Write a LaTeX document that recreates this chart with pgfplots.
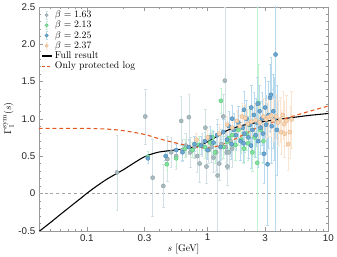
\documentclass[border=0pt]{standalone}
\usepackage{pgfplots}
\pgfplotsset{compat=1.18}
\usepackage{fontspec}
\newfontfamily\tickfont{Liberation Sans}
\definecolor{cA}{HTML}{A9BBBF}\definecolor{cAd}{HTML}{8A9FA4}\definecolor{cAe}{HTML}{D3E1E4}
\definecolor{cB}{HTML}{7FE39C}\definecolor{cBd}{HTML}{5CC27C}\definecolor{cBe}{HTML}{C2F3CF}
\definecolor{cC}{HTML}{6BA7D0}\definecolor{cCd}{HTML}{4A86B0}\definecolor{cCe}{HTML}{B8DAEE}
\definecolor{cD}{HTML}{F9D5B2}\definecolor{cDd}{HTML}{E2B48C}\definecolor{cDe}{HTML}{FAE6D2}
\definecolor{corg}{HTML}{E4571E}
\pgfplotstableread{
s y e
0.178 0.28 0.50
0.305 1.03 0.37
0.351 0.21 0.52
0.43 0.10 0.29
0.465 0.46 0.30
0.50 0.55 0.20
0.55 0.50 0.18
0.605 0.97 0.33
0.62 0.58 0.15
0.66 0.64 0.16
0.70 1.02 0.31
0.72 0.55 0.20
0.78 0.62 0.15
0.82 0.50 0.22
0.86 0.40 0.25
0.90 0.65 0.15
0.96 0.88 0.25
0.98 0.36 0.22
1.02 0.58 0.18
1.08 0.62 0.20
1.12 0.48 0.20
1.18 0.55 0.25
1.21 0.24 0.75
1.25 0.40 0.22
1.30 0.66 0.20
1.35 1.03 0.30
1.39 1.51 0.98
1.42 0.62 0.20
1.44 0.55 0.22
1.46 0.36 0.25
1.50 0.55 0.22
1.55 0.70 0.20
1.60 0.60 0.25
}\tA
\pgfplotstableread{
s y e
0.32 0.49 0.08
0.46 0.39 0.08
0.55 0.47 0.10
0.65 0.60 0.12
0.75 0.58 0.10
0.85 0.65 0.12
0.95 0.62 0.15
1.05 0.68 0.12
1.10 0.75 0.10
1.15 0.55 0.15
1.29 1.24 0.17
1.35 0.62 0.15
1.45 0.69 0.15
1.50 0.74 0.15
1.60 0.78 0.20
1.70 0.65 0.20
1.80 0.85 0.20
1.90 0.72 0.18
2.00 0.60 0.20
2.10 0.80 0.22
2.17 0.67 0.22
2.20 0.92 0.25
2.35 0.55 0.25
2.45 0.75 0.25
2.58 0.41 3.00
2.63 1.21 0.52
2.75 0.85 0.30
2.90 0.70 0.30
}\tB
\pgfplotstableread{
s y e
0.32 0.47 0.06
0.45 0.50 0.06
0.55 0.58 0.08
0.62 0.55 0.10
0.70 0.62 0.10
0.78 0.66 0.10
0.88 0.64 0.12
0.95 0.70 0.12
1.00 0.58 0.12
1.05 0.75 0.15
1.12 0.68 0.15
1.20 0.78 0.15
1.28 0.62 0.18
1.35 0.82 0.18
1.45 0.72 0.20
1.50 0.90 0.20
1.58 0.66 0.20
1.60 1.00 0.18
1.65 0.85 0.22
1.72 0.78 0.20
1.80 0.95 0.22
1.88 0.70 0.25
1.95 0.88 0.22
1.99 0.67 0.25
2.00 1.12 0.25
2.02 0.80 0.25
2.10 1.00 0.25
2.18 0.75 0.28
2.25 0.92 0.25
2.29 0.64 0.30
2.30 1.15 0.30
2.35 0.85 0.30
2.42 1.05 0.30
2.50 0.78 0.30
2.55 0.95 0.32
2.60 1.20 0.35
2.62 0.70 0.35
2.70 1.10 0.35
2.75 0.88 0.35
2.82 1.00 0.35
2.88 0.80 0.38
2.93 0.53 0.40
3.00 1.15 0.40
3.05 0.92 0.40
3.14 0.39 0.82
3.20 1.05 0.45
3.30 1.28 0.45
3.35 1.32 0.50
3.40 0.90 0.50
3.50 1.10 0.50
3.60 1.00 0.55
3.66 1.86 2.40
3.75 0.85 0.60
}\tC
\pgfplotstableread{
s y e
0.81 0.72 0.08
1.00 0.75 0.10
1.25 0.80 0.12
1.45 0.92 0.12
1.60 0.88 0.15
1.75 0.97 0.15
1.85 0.90 0.15
1.93 1.03 0.18
2.05 1.01 0.18
2.15 0.93 0.20
2.30 0.96 0.20
2.50 0.98 0.22
2.70 0.95 0.22
2.90 1.03 0.25
3.05 0.99 0.25
3.20 1.02 0.25
3.35 1.04 0.28
3.50 0.98 0.28
3.70 1.03 0.30
3.85 0.95 0.30
4.00 0.99 0.30
4.07 0.82 0.30
4.20 1.05 0.32
4.30 0.93 0.30
4.35 0.80 0.32
4.50 0.97 0.34
4.65 0.66 0.35
4.80 0.82 0.35
4.97 0.99 0.38
}\tD
\pgfplotsset{
  limg/.style n args={3}{legend image code/.code={
    \draw[#3, line width=0.5pt] (0.17cm,-0.14cm) -- (0.17cm,0.14cm);
    \draw[#3, line width=0.4pt] (0.13cm,-0.14cm) -- (0.21cm,-0.14cm) (0.13cm,0.14cm) -- (0.21cm,0.14cm);
    \draw[#2, fill=#1, line width=0.4pt] (0.17cm,0cm) circle (1.7pt);}},
  dataset/.style n args={3}{only marks, mark=*, mark size=2.1pt,
    mark options={fill=#1, draw=#2, line width=0.4pt}, limg={#1}{#2}{#3},
    error bars/.cd, y dir=both, y explicit,
    error bar style={#3, line width=0.5pt},
    error mark options={#3, mark size=1.3pt, line width=0.4pt, rotate=90}},
  blackimg/.style={legend image code/.code={\draw[black, line width=1.1pt] (0cm,0cm) -- (0.38cm,0cm);}},
  orgimg/.style={legend image code/.code={\draw[corg, line width=1.1pt, dash pattern=on 3pt off 2.5pt] (0cm,0cm) -- (0.38cm,0cm);}},
}
\begin{document}
\begin{tikzpicture}
\begin{axis}[
  scale only axis, width=296pt, height=229pt,
  xmode=log, xmin=0.04, xmax=10, ymin=-0.5, ymax=2.5,
  xtick={0.1,0.3,1,3,10}, xticklabels={0.1,0.3,1,3,10},
  minor xtick={0.05,0.06,0.07,0.08,0.09,0.2,0.4,0.5,0.6,0.7,0.8,0.9,2,4,5,6,7,8,9},
  ytick={-0.5,0,0.5,1,1.5,2,2.5}, yticklabels={-0.5,0,0.5,1.0,1.5,2.0,2.5},
  minor y tick num=4,
  tick label style={font=\tickfont\normalsize, text=black!85},
  /pgf/number format/assume math mode=true,
  axis line style={gray!80}, every tick/.style={gray!80, line width=0.4pt},
  major tick length=4pt, minor tick length=2pt,
  tick align=inside,
  xlabel={$s$ [GeV]}, ylabel={$\Gamma_1^{\rm sym}(s)$},
  label style={font=\normalsize},
  xlabel style={yshift=4pt}, ylabel style={yshift=-2pt},
  legend cell align=left,
  legend style={at={(0.005,0.995)}, anchor=north west, draw=none, fill=none,
    font=\normalsize, inner xsep=1pt, inner ysep=1pt, row sep=-2pt},
  clip=true,
]
\addplot[gray!70, dashed, line width=0.6pt, forget plot] coordinates {(0.04,0) (10,0)};
\addplot[dataset={cA}{cAd}{cAe}] table[x=s,y=y,y error=e]{\tA};
\addlegendentry{$\beta=1.63$}
\addplot[dataset={cB}{cBd}{cBe}] table[x=s,y=y,y error=e]{\tB};
\addlegendentry{$\beta=2.13$}
\addplot[dataset={cC}{cCd}{cCe}] table[x=s,y=y,y error=e]{\tC};
\addlegendentry{$\beta=2.25$}
\addplot[dataset={cD}{cDd}{cDe}] table[x=s,y=y,y error=e]{\tD};
\addlegendentry{$\beta=2.37$}
\addplot[black, line width=1.1pt, smooth, no marks, blackimg] coordinates {
(0.04,-0.513) (0.05,-0.39) (0.06,-0.286) (0.07,-0.2) (0.08,-0.125) (0.09,-0.06) (0.1,0.0)
(0.12,0.095) (0.15,0.2) (0.2,0.315) (0.25,0.415) (0.3,0.49) (0.35,0.53) (0.4,0.555)
(0.5,0.575) (0.6,0.59) (0.7,0.605) (0.8,0.625) (0.9,0.655) (1.0,0.69) (1.1,0.73)
(1.25,0.78) (1.4,0.83) (1.6,0.87) (1.8,0.895) (2.0,0.915) (2.5,0.945) (3.0,0.965)
(4.0,0.995) (5.0,1.015) (7.0,1.045) (10,1.07)};
\addlegendentry{Full result}
\addplot[corg, line width=1.1pt, smooth, no marks, dash pattern=on 4pt off 3pt, orgimg] coordinates {
(0.04,0.87) (0.1,0.87) (0.15,0.86) (0.2,0.84) (0.3,0.79) (0.4,0.73) (0.5,0.69)
(0.6,0.66) (0.8,0.62) (1.0,0.61) (1.25,0.64) (1.6,0.71) (2,0.79) (2.5,0.87)
(3,0.92) (4,0.98) (5,1.03) (7,1.10) (10,1.17)};
\addlegendentry{Only protected log}
\end{axis}
\end{tikzpicture}
\end{document}
